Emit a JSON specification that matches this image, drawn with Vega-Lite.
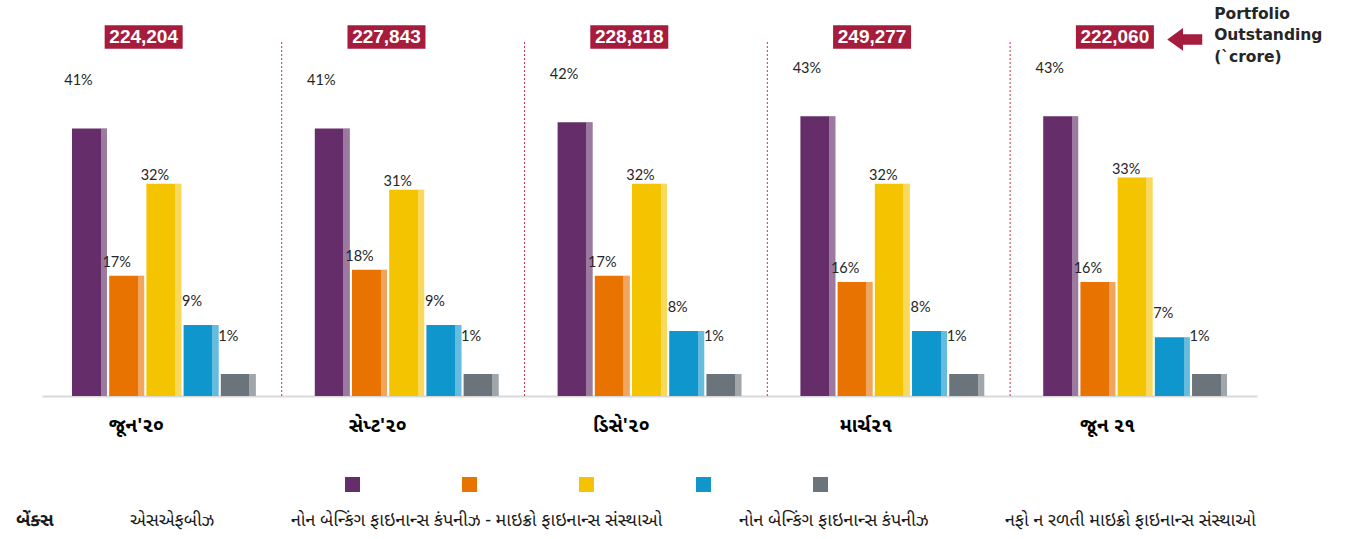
{
  "$schema": "https://vega.github.io/schema/vega-lite/v6.json",
  "width": 1215,
  "height": 354,
  "autosize": {"type": "none"},
  "padding": {"left": 42, "top": 42, "right": 104, "bottom": 143},
  "background": "white",
  "config": {"view": {"stroke": null}, "font": "Noto Sans Gujarati, Noto Sans, sans-serif"},
  "datasets": {
    "shares": [
      {"period": "જૂન'૨૦", "series": "બેંક્સ", "share": 41},
      {"period": "જૂન'૨૦", "series": "એસએફબીઝ", "share": 17},
      {"period": "જૂન'૨૦", "series": "નોન બેન્કિંગ ફાઇનાન્સ કંપનીઝ - માઇક્રો ફાઇનાન્સ સંસ્થાઓ", "share": 32},
      {"period": "જૂન'૨૦", "series": "નોન બેન્કિંગ ફાઇનાન્સ કંપનીઝ", "share": 9},
      {"period": "જૂન'૨૦", "series": "નફો ન રળતી માઇક્રો ફાઇનાન્સ સંસ્થાઓ", "share": 1},
      {"period": "સેપ્ટ'૨૦", "series": "બેંક્સ", "share": 41},
      {"period": "સેપ્ટ'૨૦", "series": "એસએફબીઝ", "share": 18},
      {"period": "સેપ્ટ'૨૦", "series": "નોન બેન્કિંગ ફાઇનાન્સ કંપનીઝ - માઇક્રો ફાઇનાન્સ સંસ્થાઓ", "share": 31},
      {"period": "સેપ્ટ'૨૦", "series": "નોન બેન્કિંગ ફાઇનાન્સ કંપનીઝ", "share": 9},
      {"period": "સેપ્ટ'૨૦", "series": "નફો ન રળતી માઇક્રો ફાઇનાન્સ સંસ્થાઓ", "share": 1},
      {"period": "ડિસે'૨૦", "series": "બેંક્સ", "share": 42},
      {"period": "ડિસે'૨૦", "series": "એસએફબીઝ", "share": 17},
      {"period": "ડિસે'૨૦", "series": "નોન બેન્કિંગ ફાઇનાન્સ કંપનીઝ - માઇક્રો ફાઇનાન્સ સંસ્થાઓ", "share": 32},
      {"period": "ડિસે'૨૦", "series": "નોન બેન્કિંગ ફાઇનાન્સ કંપનીઝ", "share": 8},
      {"period": "ડિસે'૨૦", "series": "નફો ન રળતી માઇક્રો ફાઇનાન્સ સંસ્થાઓ", "share": 1},
      {"period": "માર્ચ૨૧", "series": "બેંક્સ", "share": 43},
      {"period": "માર્ચ૨૧", "series": "એસએફબીઝ", "share": 16},
      {"period": "માર્ચ૨૧", "series": "નોન બેન્કિંગ ફાઇનાન્સ કંપનીઝ - માઇક્રો ફાઇનાન્સ સંસ્થાઓ", "share": 32},
      {"period": "માર્ચ૨૧", "series": "નોન બેન્કિંગ ફાઇનાન્સ કંપનીઝ", "share": 8},
      {"period": "માર્ચ૨૧", "series": "નફો ન રળતી માઇક્રો ફાઇનાન્સ સંસ્થાઓ", "share": 1},
      {"period": "જૂન ૨૧", "series": "બેંક્સ", "share": 43},
      {"period": "જૂન ૨૧", "series": "એસએફબીઝ", "share": 16},
      {"period": "જૂન ૨૧", "series": "નોન બેન્કિંગ ફાઇનાન્સ કંપનીઝ - માઇક્રો ફાઇનાન્સ સંસ્થાઓ", "share": 33},
      {"period": "જૂન ૨૧", "series": "નોન બેન્કિંગ ફાઇનાન્સ કંપનીઝ", "share": 7},
      {"period": "જૂન ૨૧", "series": "નફો ન રળતી માઇક્રો ફાઇનાન્સ સંસ્થાઓ", "share": 1}
    ],
    "totals": [
      {"period": "જૂન'૨૦", "total": 224204},
      {"period": "સેપ્ટ'૨૦", "total": 227843},
      {"period": "ડિસે'૨૦", "total": 228818},
      {"period": "માર્ચ૨૧", "total": 249277},
      {"period": "જૂન ૨૧", "total": 222060}
    ]
  },
  "layer": [
    {
      "data": {"name": "totals"},
      "transform": [{"filter": {"field": "period", "oneOf": ["સેપ્ટ'૨૦", "ડિસે'૨૦", "માર્ચ૨૧", "જૂન ૨૧"]}}],
      "mark": {"type": "rule", "color": "#c8334f", "strokeDash": [2, 2], "strokeWidth": 1},
      "encoding": {
        "x": {"field": "period", "type": "nominal", "bandPosition": -0.18}
      }
    },
    {
      "data": {"name": "shares"},
      "transform": [{"calculate": "datum.series", "as": "lab"}],
      "mark": {"type": "bar"},
      "encoding": {
        "x": {
          "field": "period", "type": "nominal", "sort": null,
          "scale": {"domain": ["જૂન'૨૦", "સેપ્ટ'૨૦", "ડિસે'૨૦", "માર્ચ૨૧", "જૂન ૨૧"], "paddingInner": 0.243, "paddingOuter": 0.1235},
          "axis": {"title": null, "labelAngle": 0, "ticks": false, "domainColor": "#d9d9d9", "domainWidth": 2, "labelFontSize": 19, "labelFontWeight": "bold", "labelColor": "#000000", "labelPadding": 29, "labelFont": "Noto Sans Gujarati, Noto Sans, sans-serif"}
        },
        "xOffset": {
          "field": "series", "type": "nominal", "sort": null,
          "scale": {"domain": ["બેંક્સ", "એસએફબીઝ", "નોન બેન્કિંગ ફાઇનાન્સ કંપનીઝ - માઇક્રો ફાઇનાન્સ સંસ્થાઓ", "નોન બેન્કિંગ ફાઇનાન્સ કંપનીઝ", "નફો ન રળતી માઇક્રો ફાઇનાન્સ સંસ્થાઓ"], "paddingInner": 0.06}
        },
        "y": {"field": "share", "type": "quantitative", "scale": {"domain": [-2.57, 55.08], "nice": false, "zero": false}, "axis": null},
        "y2": {"datum": -2.57},
        "color": {
          "field": "series", "type": "nominal", "sort": null,
          "scale": {"domain": ["બેંક્સ", "એસએફબીઝ", "નોન બેન્કિંગ ફાઇનાન્સ કંપનીઝ - માઇક્રો ફાઇનાન્સ સંસ્થાઓ", "નોન બેન્કિંગ ફાઇનાન્સ કંપનીઝ", "નફો ન રળતી માઇક્રો ફાઇનાન્સ સંસ્થાઓ"], "range": ["#652e6a", "#e97300", "#f5c400", "#0f96cc", "#6b747b"]},
          "legend": {"orient": "none", "legendX": 303, "legendY": 435, "direction": "horizontal", "title": null, "symbolType": "square", "symbolSize": 225, "symbolStrokeWidth": 0, "symbolOpacity": 1, "labelExpr": "''", "labelOffset": 0, "columnPadding": 102, "padding": 0}
        },
        "opacity": {
          "field": "lab", "type": "nominal", "sort": null,
          "scale": {"range": [1, 1, 1, 1, 1]},
          "legend": {"orient": "none", "legendX": -44, "legendY": 470, "direction": "horizontal", "title": null, "symbolSize": 0, "symbolOpacity": 0, "symbolStrokeWidth": 0, "labelOffset": 0, "columnPadding": 58, "gridAlign": "none", "labelFontSize": 18, "labelLimit": 700, "labelColor": "#1a1a1a", "labelFont": "Noto Sans Gujarati, Noto Sans, sans-serif", "padding": 0,
            "labelFontWeight": {"expr": "datum.value === 'બેંક્સ' ? 'bold' : 'normal'"}}
        }
      }
    },
    {
      "data": {"name": "shares"},
      "mark": {"type": "bar", "fill": {"gradient": "linear", "x1": 0, "y1": 0, "x2": 1, "y2": 0, "stops": [{"offset": 0, "color": "rgba(255,255,255,0)"}, {"offset": 0.82, "color": "rgba(255,255,255,0)"}, {"offset": 0.82, "color": "rgba(255,255,255,0.36)"}, {"offset": 1, "color": "rgba(255,255,255,0.36)"}]}},
      "encoding": {
        "x": {"field": "period", "type": "nominal"},
        "xOffset": {"field": "series", "type": "nominal"},
        "y": {"field": "share", "type": "quantitative"},
        "y2": {"datum": -2.57}
      }
    },
    {
      "data": {"name": "shares"},
      "transform": [{"calculate": "datum.share + '%'", "as": "pct"}],
      "encoding": {
        "x": {"field": "period", "type": "nominal"},
        "xOffset": {"field": "series", "type": "nominal"},
        "y": {"field": "share", "type": "quantitative"},
        "text": {"field": "pct", "type": "nominal"}
      },
      "layer": [
        {"transform": [{"filter": "datum.series === 'બેંક્સ'"}], "mark": {"type": "text", "font": "Lato", "fontSize": 14.5, "color": "#262626", "dx": -11, "dy": -47, "baseline": "middle"}},
        {"transform": [{"filter": "datum.series === 'એસએફબીઝ'"}], "mark": {"type": "text", "font": "Lato", "fontSize": 14.5, "color": "#262626", "dx": -10, "dy": -13, "baseline": "middle"}},
        {"transform": [{"filter": "datum.series === 'નોન બેન્કિંગ ફાઇનાન્સ કંપનીઝ - માઇક્રો ફાઇનાન્સ સંસ્થાઓ'"}], "mark": {"type": "text", "font": "Lato", "fontSize": 14.5, "color": "#262626", "dx": -9, "dy": -8, "baseline": "middle"}},
        {"transform": [{"filter": "datum.series === 'નોન બેન્કિંગ ફાઇનાન્સ કંપનીઝ'"}], "mark": {"type": "text", "font": "Lato", "fontSize": 14.5, "color": "#262626", "dx": -9, "dy": -23, "baseline": "middle"}},
        {"transform": [{"filter": "datum.series === 'નફો ન રળતી માઇક્રો ફાઇનાન્સ સંસ્થાઓ'"}], "mark": {"type": "text", "font": "Lato", "fontSize": 14.5, "color": "#262626", "dx": -10, "dy": -37, "baseline": "middle"}}
      ]
    },
    {
      "data": {"name": "totals"},
      "mark": {"type": "point", "shape": "M-1,-0.3L1,-0.3L1,0.3L-1,0.3Z", "size": 6084, "filled": true, "color": "#a51c3c", "opacity": 1, "strokeWidth": 0},
      "encoding": {
        "x": {"field": "period", "type": "nominal", "bandPosition": 0.39},
        "y": {"datum": 55.9}
      }
    },
    {
      "data": {"name": "totals"},
      "mark": {"type": "text", "font": "Liberation Sans", "fontSize": 19, "fontWeight": "bold", "color": "#ffffff", "baseline": "middle", "align": "center"},
      "encoding": {
        "x": {"field": "period", "type": "nominal", "bandPosition": 0.39},
        "y": {"datum": 55.9},
        "text": {"field": "total", "type": "quantitative", "format": ","}
      }
    },
    {
      "data": {"values": [{"note": "Portfolio Outstanding (`crore)"}]},
      "mark": {"type": "point", "shape": "M-1,0L-0.1,-0.65L-0.1,-0.3L1,-0.3L1,0.3L-0.1,0.3L-0.1,0.65Z", "size": 1225, "filled": true, "color": "#a51c3c", "opacity": 1, "strokeWidth": 0},
      "encoding": {
        "x": {"datum": "જૂન ૨૧", "bandPosition": 0.77},
        "y": {"datum": 55.49}
      }
    },
    {
      "data": {"values": [{"note": "Portfolio Outstanding (`crore)"}]},
      "mark": {"type": "text", "font": "DejaVu Sans", "fontSize": 15.5, "fontWeight": "bold", "color": "#262626", "align": "left", "baseline": "middle", "lineHeight": 21.5},
      "encoding": {
        "x": {"datum": "જૂન ૨૧", "bandPosition": 0.93},
        "y": {"datum": 59.64},
        "text": {"value": ["Portfolio", "Outstanding", "(`crore)"]}
      }
    }
  ]
}
